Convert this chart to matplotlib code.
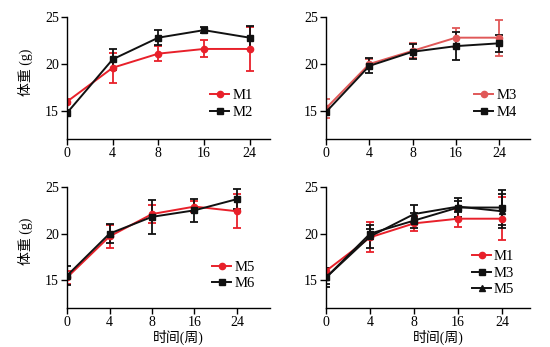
import matplotlib
matplotlib.use('Agg')
import matplotlib.pyplot as plt
from matplotlib.lines import Line2D
import numpy as np

plt.rcParams['font.family'] = ['Liberation Serif', 'Noto Sans CJK SC']
plt.rcParams['font.size'] = 10

weeks = ['0', '4', '8', '16', '24']

# mean body weight (g) and error for each group
M1 = [16.0, 19.6, 21.1, 21.6, 21.6]
M1_err = [0.3, 1.6, 0.8, 0.9, 2.3]
M2 = [14.8, 20.5, 22.8, 23.6, 22.8]
M2_err = [0.3, 1.1, 0.8, 0.3, 1.2]
M3 = [15.3, 20.0, 21.4, 22.8, 22.8]
M3_err = [1.0, 0.5, 0.8, 1.0, 1.9]
M4 = [14.9, 19.8, 21.3, 21.9, 22.2]
M4_err = [0.3, 0.8, 0.8, 1.5, 0.9]
M5 = [15.3, 19.7, 22.1, 22.9, 22.4]
M5_err = [0.7, 1.2, 1.0, 0.6, 1.8]
M6 = [15.5, 20.0, 21.8, 22.5, 23.7]
M6_err = [1.0, 1.0, 1.8, 1.2, 1.1]

red = '#e8202a'
pink = '#e05858'
black = '#111111'

panels = [
    # (rect, xmax, series, legend anchor, ylabel, xlabel)
    ([0.122, 0.599, 0.369, 0.352], 4.45,
     [('M1', M1, M1_err, red, 'o'), ('M2', M2, M2_err, black, 's')],
     (0.67, 0.29), True, False),
    ([0.593, 0.599, 0.371, 0.352], 4.72,
     [('M3', M3, M3_err, pink, 'o'), ('M4', M4, M4_err, black, 's')],
     (0.69, 0.29), False, False),
    ([0.122, 0.112, 0.369, 0.349], 4.78,
     [('M5', M5, M5_err, red, 'o'), ('M6', M6, M6_err, black, 's')],
     (0.68, 0.27), True, True),
    ([0.593, 0.112, 0.371, 0.349], 4.64,
     [('M1', M1, M1_err, red, 'o'), ('M3', M3, M3_err, black, 's'),
      ('M5', M5, M5_err, black, '^')],
     (0.68, 0.29), False, True),
]

fig = plt.figure(figsize=(5.5, 3.47), dpi=100)
x = np.arange(len(weeks))
for rect, xmax, series, anchor, ylab, xlab in panels:
    ax = fig.add_axes(rect)
    handles = []
    for name, vals, err, col, mk in series:
        ax.errorbar(x, vals, yerr=err, color=col, marker=mk, markersize=4.5,
                    lw=1.4, elinewidth=1.3, capsize=3, capthick=1.3)
        handles.append(Line2D([], [], color=col, marker=mk, markersize=4.5,
                              lw=1.4, label=name))
    ax.set_xlim(0, xmax)
    ax.set_ylim(12, 25)
    ax.set_xticks(x)
    ax.set_xticklabels(weeks)
    ax.set_yticks([15, 20, 25])
    ax.spines['top'].set_visible(False)
    ax.spines['right'].set_visible(False)
    ax.tick_params(direction='out', length=4, width=1, labelsize=10, pad=2)
    for s in ax.spines.values():
        s.set_linewidth(1)
    if ylab:
        ax.set_ylabel('体重 (g)', fontsize=10, labelpad=6)
        ax.yaxis.set_label_coords(-0.17, 0.55)
    if xlab:
        ax.set_xlabel('时间(周)', fontsize=10, labelpad=1)
        ax.xaxis.set_label_coords(0.55, -0.175)
    ax.legend(handles=handles, loc='center left', bbox_to_anchor=anchor,
              frameon=False, handlelength=1.3, handletextpad=0.2,
              labelspacing=0.25, borderpad=0, fontsize=10.5)

plt.savefig('out.png', dpi=100)
